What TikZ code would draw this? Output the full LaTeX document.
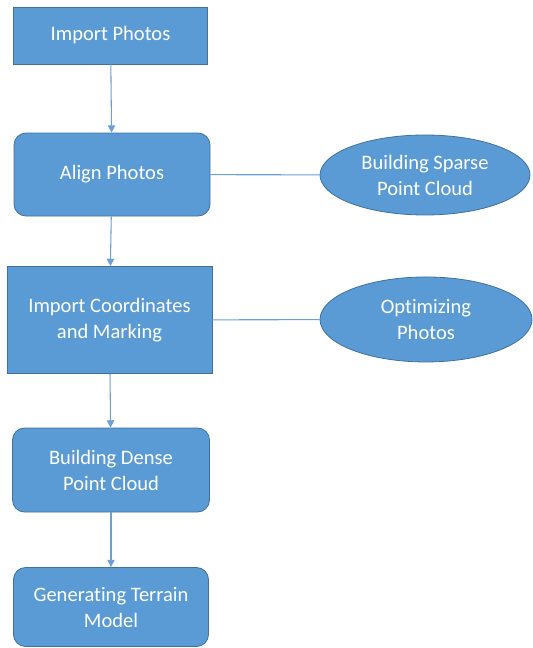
\documentclass[tikz,border=0pt]{standalone}
\usepackage{fontspec}
\setmainfont{Carlito}[Ligatures=NoCommon]
\usetikzlibrary{arrows.meta,shapes.geometric}
\definecolor{boxblue}{HTML}{5B9BD5}
\definecolor{edgeblue}{HTML}{41719C}
\definecolor{linkblue}{HTML}{6A9FD8}
\begin{document}
\begin{tikzpicture}[align=center, font=\fontsize{15.4}{19.5}\selectfont, text=white,
  stepbox/.style={draw=edgeblue, fill=boxblue, line width=0.6pt, inner sep=0pt},
  roundbox/.style={stepbox, rounded corners=9pt},
  blob/.style={stepbox, ellipse},
  link/.style={draw=linkblue, line width=0.8pt},
  flow/.style={link, -{Triangle[length=5.5pt,width=5.5pt]}}]

\useasboundingbox (0pt,0pt) rectangle (399pt,-486pt);

% Steps
\node[stepbox, minimum width=146pt, minimum height=42.75pt] (photos) at (82.9pt,-26.6pt) {Import Photos};
\node[roundbox, minimum width=147pt, minimum height=62.25pt] (align) at (84pt,-130.9pt) {Align Photos};
\node[stepbox, minimum width=153.75pt, minimum height=80.25pt] (coords) at (82.1pt,-240pt) {Import Coordinates\\and Marking};
\node[roundbox, minimum width=147.75pt, minimum height=63pt] (dense) at (83.25pt,-352.5pt) {Building Dense\\Point Cloud};
\node[roundbox, minimum width=146.25pt, minimum height=59.25pt] (terrain) at (83.25pt,-455.25pt) {Generating Terrain\\Model};

% Side steps
\node[blob, minimum width=157.5pt, minimum height=60pt] (sparse) at (318.75pt,-131.25pt) {Building Sparse\\Point Cloud};
\node[blob, minimum width=159pt, minimum height=63.75pt] (optim) at (319.5pt,-239.6pt) {Optimizing\\Photos};

% Arrows
\draw[flow] (photos) -- (align);
\draw[flow] (align) -- (coords);
\draw[flow] (coords) -- (dense);
\draw[flow] (dense) -- (terrain);
\draw[link] (align) -- (sparse);
\draw[link] (coords) -- (optim);

\end{tikzpicture}
\end{document}
